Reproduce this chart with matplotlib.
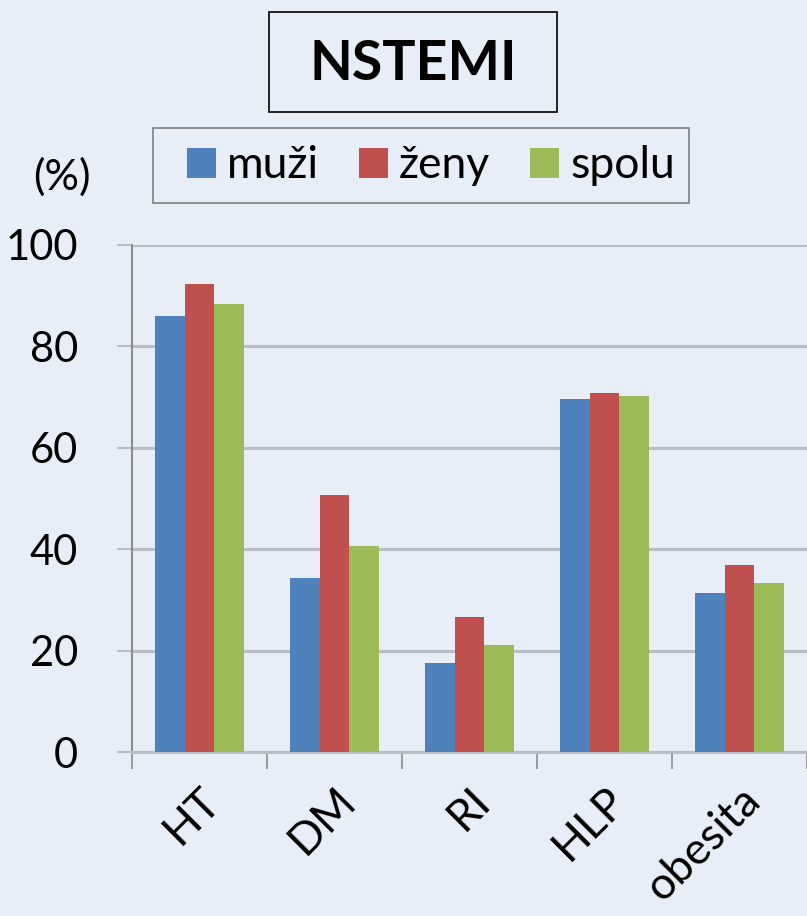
import matplotlib
matplotlib.use("Agg")
import matplotlib.pyplot as plt
import numpy as np
from matplotlib.patches import Patch, Rectangle

# data
categories = ["HT", "DM", "RI", "HLP", "obesita"]
muzi = [86.0, 34.4, 17.5, 69.7, 31.4]
zeny = [92.4, 50.7, 26.7, 70.9, 36.9]
spolu = [88.4, 40.7, 21.2, 70.2, 33.3]
series_names = ["muži", "ženy", "spolu"]
colors = ["#4f81bd", "#c0504d", "#9bbb59"]

bg = "#e8eef8"
grid_c = "#b9bdc5"
W, H = 807, 916

plt.rcParams['font.family'] = ['Lato', 'DejaVu Sans']

fig = plt.figure(figsize=(W / 100, H / 100), dpi=100, facecolor=bg)
ax = fig.add_axes([132/W, 1 - 752/H, 1 - 132/W, (752 - 245)/H])
ax.set_facecolor(bg)

x = np.arange(len(categories))
w = 0.222
for i, (vals, c) in enumerate(zip([muzi, zeny, spolu], colors)):
    ax.bar(x + (i - 1) * w, vals, width=w, color=c, zorder=3)

ax.set_ylim(0, 100)
ax.set_xlim(-0.5, (W - 132) / 137 - 0.5)
ax.set_yticks(range(0, 101, 20))
ax.yaxis.grid(True, color=grid_c, linewidth=2.2, zorder=0)
ax.tick_params(axis='y', labelsize=30, length=11, width=1.5, color=grid_c, pad=28)

# category boundaries as tick marks, labels at centres
ax.set_xticks(x)
ax.set_xticks(np.arange(-0.5, len(categories), 1.0), minor=True)
ax.tick_params(axis='x', which='major', length=0, pad=20)
ax.tick_params(axis='x', which='minor', length=12, width=1.2, color="#8c8c8c")
ax.set_xticklabels(categories, fontsize=32, rotation=45, ha='right', va='top',
                   rotation_mode='anchor')

for s in ["top", "right"]:
    ax.spines[s].set_visible(False)
ax.spines["left"].set_color("#8c8c8c")
ax.spines["left"].set_linewidth(1.5)
ax.spines["bottom"].set_color(grid_c)
ax.spines["bottom"].set_linewidth(2.2)

# title box
fig.add_artist(Rectangle((269/W, 1 - 112/H), (557 - 269)/W, 100/H,
                         transform=fig.transFigure, facecolor=bg,
                         edgecolor='black', linewidth=1.2))
fig.text(413/W, 1 - 64/H, "NSTEMI", fontsize=40, fontweight='bold',
         ha='center', va='center')

# legend box (frame drawn separately, the reference has uneven padding)
fig.add_artist(Rectangle((153/W, 1 - 203/H), (689 - 153)/W, 75/H,
                         transform=fig.transFigure, facecolor=bg,
                         edgecolor="#7f7f7f", linewidth=1.2))
handles = [Patch(facecolor=c, edgecolor='none', label=n) for c, n in zip(colors, series_names)]
leg = fig.legend(handles=handles, loc='center', bbox_to_anchor=(431/W, 1 - 166/H),
                 ncol=3, fontsize=32, frameon=False,
                 handlelength=0.65, handleheight=0.65,
                 handletextpad=0.25, columnspacing=0.9, borderpad=0.3,
                 borderaxespad=0)

fig.text(62/W, 1 - 177/H, "(%)", fontsize=31, ha='center', va='center')

fig.savefig("out.png", dpi=100, facecolor=bg)
